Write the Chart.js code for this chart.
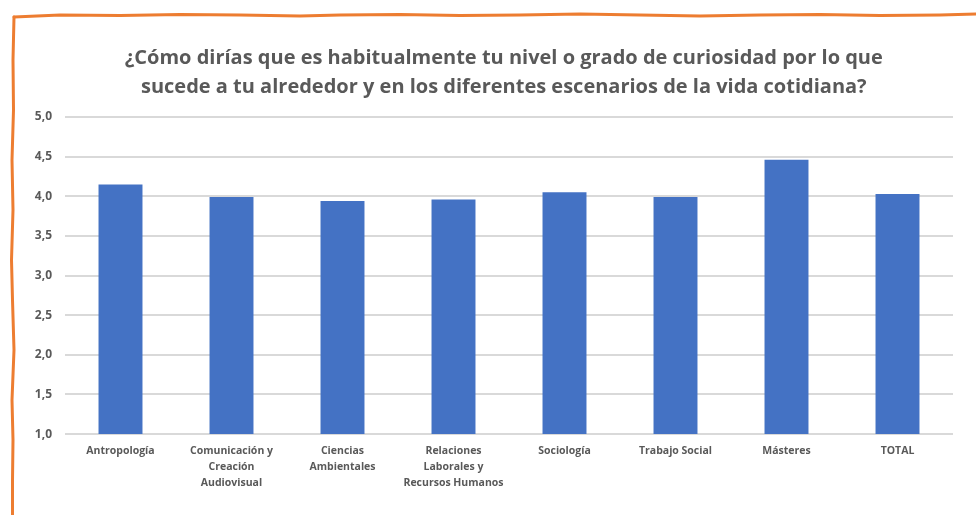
<!DOCTYPE html>
<html lang="es">
<head>
    <meta charset="UTF-8">
    <title>Curiosidad por titulación</title>
    <script src="https://cdn.jsdelivr.net/npm/chart.js"></script>
    <style>
        html, body { margin: 0; padding: 0; background: #fff; }
        .chart-box { position: relative; width: 976px; height: 515px; }
    </style>
</head>
<body>
    <div class="chart-box">
        <canvas id="curiosidadChart"></canvas>
    </div>

    <script>
        // Data
        const titulaciones = [
            'Antropología',
            ['Comunicación y', 'Creación', 'Audiovisual'],
            ['Ciencias', 'Ambientales'],
            ['Relaciones', 'Laborales y', 'Recursos Humanos'],
            'Sociología',
            'Trabajo Social',
            'Másteres',
            'TOTAL'
        ];
        const mediaCuriosidad = [4.15, 3.99, 3.94, 3.96, 4.05, 3.99, 4.46, 4.03];
        const yTicks = [1.0, 1.5, 2.0, 2.5, 3.0, 3.5, 4.0, 4.5, 5.0];

        // trailing spaces nudge the centred title a little to the left, like the original
        const tituloLineas = [
            '¿Cómo dirías que es habitualmente tu nivel o grado de curiosidad por lo que  ',
            'sucede a tu alrededor y en los diferentes escenarios de la vida cotidiana?  '
        ];

        // hand-drawn orange frame (decoration only)
        const marcoNaranja = {
            id: 'marcoNaranja',
            beforeDraw(chart) {
                const ctx = chart.ctx;
                ctx.save();
                ctx.fillStyle = '#ffffff';
                ctx.fillRect(0, 0, chart.width, chart.height);
                ctx.strokeStyle = '#ED7D31';
                ctx.lineWidth = 3;
                ctx.lineCap = 'round';
                ctx.lineJoin = 'round';
                // top edge
                const top = [[14, 17], [60, 15], [120, 15.5], [180, 14.5], [240, 15], [300, 16],
                             [340, 15], [400, 14.5], [460, 15.5], [520, 15], [580, 14], [640, 15],
                             [700, 16], [760, 15], [820, 14.5], [880, 15.5], [940, 15], [976, 14]];
                ctx.beginPath();
                top.forEach((p, i) => i ? ctx.lineTo(p[0], p[1]) : ctx.moveTo(p[0], p[1]));
                ctx.stroke();
                // left edge
                const left = [[14, 17], [13, 60], [13.5, 110], [12, 160], [13, 210], [11.5, 260],
                              [12.5, 300], [14, 350], [12, 400], [13, 440], [12.5, 480], [12.5, 515]];
                ctx.beginPath();
                left.forEach((p, i) => i ? ctx.lineTo(p[0], p[1]) : ctx.moveTo(p[0], p[1]));
                ctx.stroke();
                ctx.restore();
            }
        };

        const ctx = document.getElementById('curiosidadChart').getContext('2d');
        const curiosidadChart = new Chart(ctx, {
            type: 'bar',
            data: {
                labels: titulaciones,
                datasets: [{
                    label: 'Media',
                    data: mediaCuriosidad,
                    backgroundColor: '#4472C4',
                    categoryPercentage: 1,
                    barPercentage: 0.396
                }]
            },
            options: {
                responsive: true,
                maintainAspectRatio: false,
                animation: false,
                layout: { padding: { left: 15, right: 23, top: 0, bottom: 15 } },
                plugins: {
                    legend: { display: false },
                    tooltip: { enabled: false },
                    title: {
                        display: true,
                        fullSize: false,
                        text: tituloLineas,
                        color: '#595959',
                        font: { family: 'Open Sans', size: 20, weight: 'bold', lineHeight: 1.45 },
                        padding: { top: 44, bottom: 15 }
                    }
                },
                scales: {
                    x: {
                        grid: { display: false, drawTicks: false },
                        border: { display: false },
                        ticks: {
                            color: '#595959',
                            padding: 9,
                            maxRotation: 0,
                            autoSkip: false,
                            font: { family: 'Open Sans', size: 10.5, weight: 'bold', lineHeight: 1.52 }
                        }
                    },
                    y: {
                        min: 1,
                        max: 5,
                        afterFit(scale) { scale.width = 50; },
                        afterBuildTicks(scale) { scale.ticks = yTicks.map(v => ({ value: v })); },
                        grid: { color: '#d9d9d9', lineWidth: 2, drawTicks: false },
                        border: { display: false },
                        ticks: {
                            color: '#595959',
                            padding: 13,
                            font: { family: 'Open Sans', size: 12, weight: 'bold' },
                            callback: v => v.toFixed(1).replace('.', ',')
                        }
                    }
                }
            },
            plugins: [marcoNaranja]
        });
    </script>
</body>
</html>
